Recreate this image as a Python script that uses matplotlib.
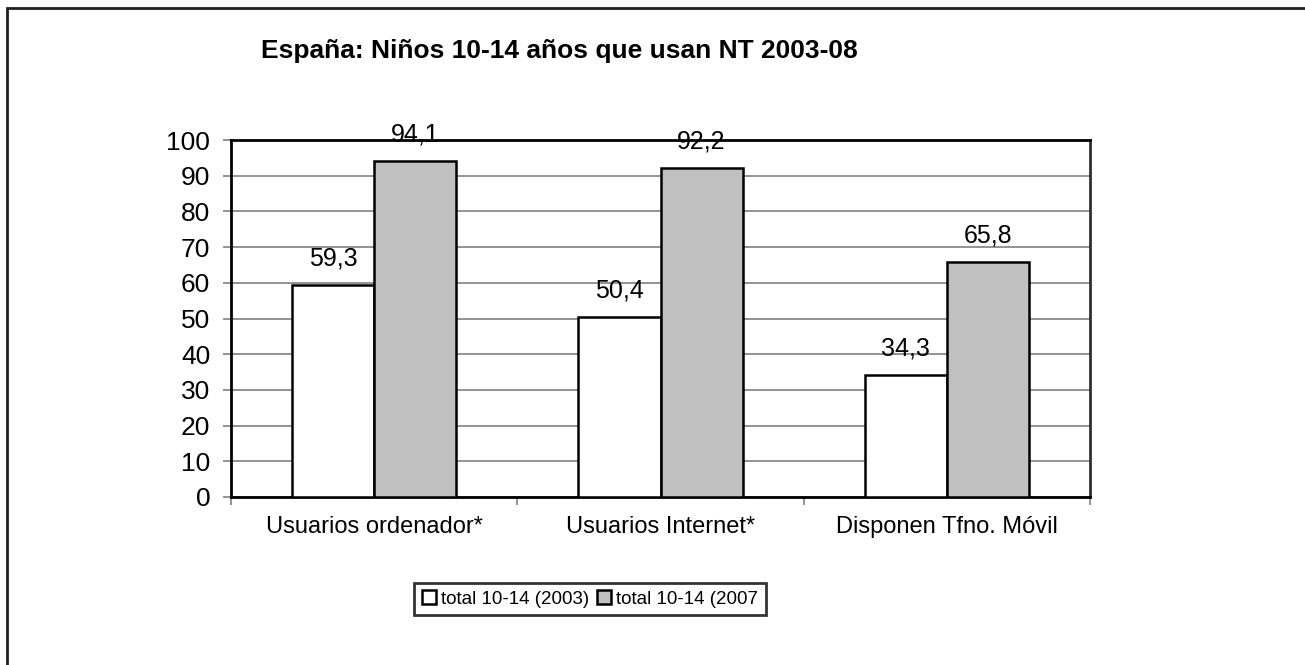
import numpy as np
import matplotlib.pyplot as plt
from matplotlib.patches import Rectangle

categories = ["Usuarios ordenador*", "Usuarios Internet*", "Disponen Tfno. Móvil"]
vals_2003 = [59.3, 50.4, 34.3]
vals_2007 = [94.1, 92.2, 65.8]
labels_2003 = ["59,3", "50,4", "34,3"]
labels_2007 = ["94,1", "92,2", "65,8"]
series_names = ["total 10-14 (2003)", "total 10-14 (2007"]

plt.rcParams['font.family'] = ['Liberation Sans', 'DejaVu Sans']

fig = plt.figure(figsize=(13.05, 6.65), dpi=100)
ax = fig.add_axes([231/1305, 168/665, 859/1305, 357/665])

x = np.arange(len(categories)) + 0.5
w = 0.287
b1 = ax.bar(x - w/2, vals_2003, w, color='white', edgecolor='black', linewidth=1.8,
            label=series_names[0], zorder=3)
b2 = ax.bar(x + w/2, vals_2007, w, color='#c0c0c0', edgecolor='black', linewidth=1.8,
            label=series_names[1], zorder=3)

# data labels above bars
for rects, labs in [(b1, labels_2003), (b2, labels_2007)]:
    for r, lab in zip(rects, labs):
        ax.annotate(lab, (r.get_x() + r.get_width()/2, r.get_height()),
                    xytext=(0, 14), textcoords='offset points',
                    ha='center', va='baseline', fontsize=18, zorder=4)

ax.set_xlim(0, 3)
ax.set_ylim(0, 100)
ax.set_yticks(np.arange(0, 101, 10))
ax.yaxis.grid(True, color='#808080', linewidth=1.2, zorder=0)
ax.tick_params(axis='y', labelsize=19, length=6, width=1.2, color='#808080', pad=9)

# category ticks between groups, labels centered
ax.set_xticks([0, 1, 2, 3])
ax.set_xticklabels([])
ax.set_xticks(x, minor=True)
ax.set_xticklabels(categories, minor=True)
ax.tick_params(axis='x', which='major', length=6, width=1.2, color='#808080')
ax.tick_params(axis='x', which='minor', length=0, labelsize=17, pad=14)

for s in ax.spines.values():
    s.set_linewidth(2)
    s.set_color('black')
ax.spines['right'].set_color('#303030')

fig.text(559/1305, 1 - 51/665, "España: Niños 10-14 años que usan NT 2003-08",
         ha='center', va='center', fontsize=19, fontweight='bold')

leg = fig.legend(loc='center', bbox_to_anchor=(590/1305, 1 - 599/665), ncol=2,
                 fontsize=13.5, frameon=True, fancybox=False, edgecolor='black',
                 handlelength=0.75, handleheight=0.75, handletextpad=0.3,
                 columnspacing=0.4, borderpad=0.4, borderaxespad=0)
leg.get_frame().set_linewidth(2)

# outer chart border (only top and left visible in the crop)
fig.patches.append(Rectangle((7/1305, -0.1), 1.2, 1 - 8/665 + 0.1, transform=fig.transFigure,
                             fill=False, edgecolor='#202020', linewidth=2, clip_on=False))

fig.savefig('out.png', dpi=100)
